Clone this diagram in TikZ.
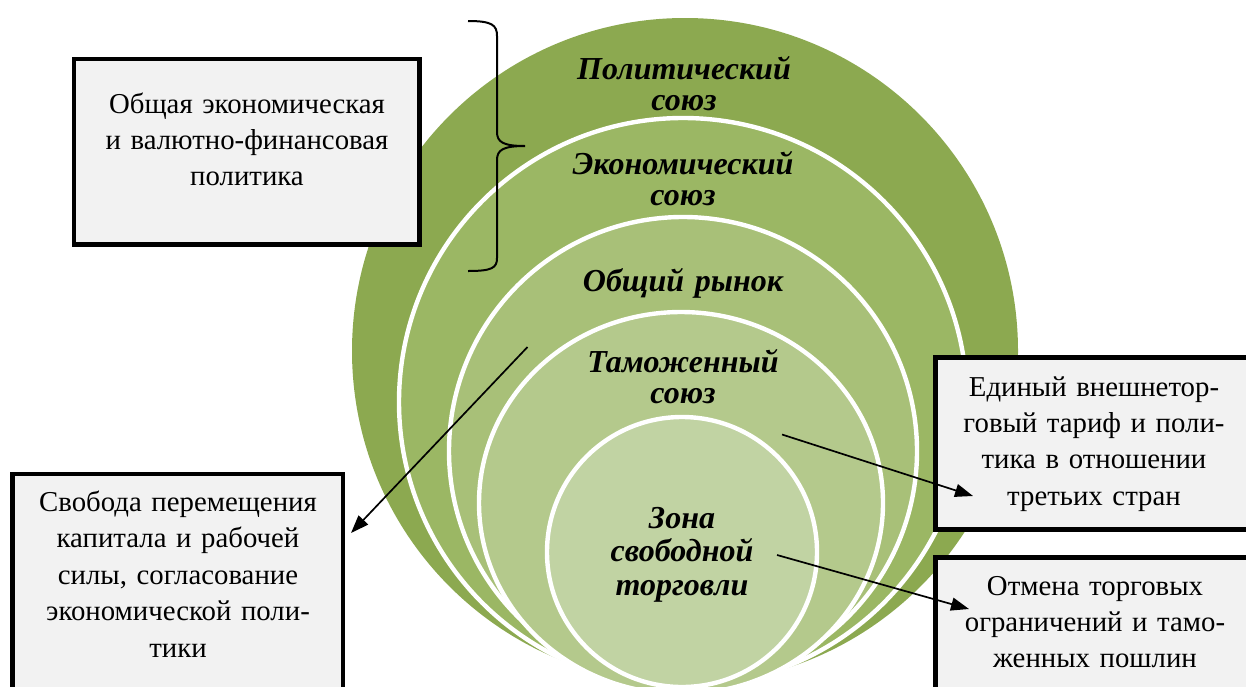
\documentclass[tikz,border=0pt]{standalone}
\usepackage{fontspec}
\setmainfont{Liberation Serif}
\usetikzlibrary{arrows.meta}

\definecolor{ringA}{HTML}{8CA950}
\definecolor{ringB}{HTML}{9BB764}
\definecolor{ringC}{HTML}{A8C078}
\definecolor{ringD}{HTML}{B4C98C}
\definecolor{ringE}{HTML}{C1D3A3}

\tikzset{
    ring/.style={draw=white, line width=2.2pt},
    boxframe/.style={draw=black, line width=2.4pt, fill=black!5},
    boxtext/.style={anchor=base, text width=165pt, align=center, inner sep=0pt,
        font=\fontsize{14.4}{18.2}\selectfont},
    stage/.style={anchor=base, text width=140pt, align=center, inner sep=0pt,
        font=\fontsize{16}{15.7}\selectfont\bfseries\itshape},
    pointer/.style={-{Triangle[length=9pt,width=6.5pt]}, line width=0.85pt},
}

\begin{document}
\begin{tikzpicture}[x=0.5pt, y=-0.5pt]
    \clip (0,0) rectangle (1246,686);

    %% Stacked circles
    \fill[ringA] (685,351) circle (333);
    \path[fill=ringB, ring] (683,402) circle (284);
    \path[fill=ringC, ring] (683,451) circle (234);
    \path[fill=ringD, ring] (681,503) ellipse (202 and 191);
    \path[fill=ringE, ring] (682,552) circle (135);

    % Stage names
    \node[stage] (political) at (684,79) {Политический\\союз};
    \node[stage] (economic) at (683,174) {Экономический\\союз};
    \node[stage] (market) at (683,291) {Общий рынок};
    \node[stage] (customs) at (683,372) {Таможенный\\союз};
    \node[stage, font=\fontsize{16}{16.8}\selectfont\bfseries\itshape] (freetrade) at (682,528) {Зона\\свободной\\торговли};

    % Brace
    \draw[line width=1pt] (468,21) .. controls (492,21) and (497,25) .. (497,36)
        -- (497,132) .. controls (497,142) and (503,146) .. (525,146)
        .. controls (503,146) and (497,150) .. (497,160)
        -- (497,258) .. controls (497,268) and (492,271) .. (468,271);

    %% Boxes
    \draw[boxframe] (74,59) rectangle (419.5,244.5);
    \node[boxtext] (ecopolicy) at (247,113) {Общая экономическая\\и валютно-финансовая\\политика};

    \draw[boxframe] (12.5,474) rectangle (343,700);
    \node[boxtext] (freedom) at (178,511.5) {Свобода перемещения\\капитала и рабочей\\силы, согласование\\экономической поли-\\тики};

    \draw[boxframe] (935.5,357.5) rectangle (1262,529.5);
    \node[boxtext] (tariff) at (1094,396) {Единый внешнетор-\\говый тариф и поли-\\тика в отношении\\третьих стран};

    \draw[boxframe] (935.5,557.5) rectangle (1262,710);
    \node[boxtext] (abolish) at (1095,595) {Отмена торговых\\ограничений и тамо-\\женных пошлин};

    %% Pointers
    \coordinate (marketpt) at (527.5,347);
    \coordinate (freedompt) at (351,533);
    \coordinate (customspt) at (782,434.5);
    \coordinate (tariffpt) at (973,496);
    \coordinate (freetradept) at (777,555);
    \coordinate (abolishpt) at (969,609);

    \draw[pointer] (marketpt) -- (freedompt);
    \draw[pointer] (customspt) -- (tariffpt);
    \draw[pointer] (freetradept) -- (abolishpt);

\end{tikzpicture}
\end{document}
